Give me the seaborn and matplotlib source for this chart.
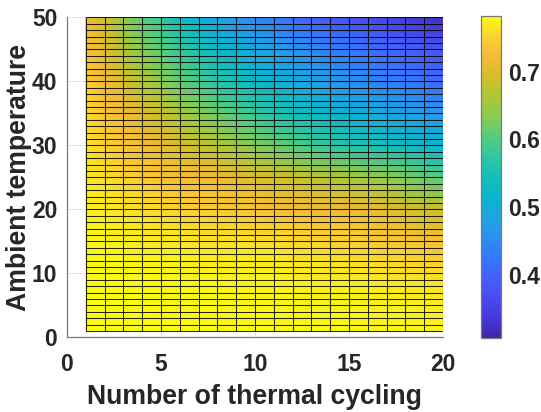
import numpy as np
import matplotlib
matplotlib.use("Agg")
import matplotlib.pyplot as plt
from matplotlib.colors import LinearSegmentedColormap
import seaborn as sns

# ---------------- data ----------------
cycles = np.arange(1, 21)            # number of thermal cycling (x grid)
temps = np.arange(1, 51)             # ambient temperature (y grid)
temp_read = [1, 5, 10, 15, 20, 25, 30, 35, 40, 45, 50]   # rows where values were read

z_t1 = [0.782, 0.782, 0.782, 0.782, 0.781, 0.781, 0.781, 0.781, 0.780, 0.780,
        0.780, 0.780, 0.779, 0.779, 0.779, 0.778, 0.778, 0.778, 0.777, 0.777]
z_t5 = [0.782, 0.782, 0.781, 0.781, 0.780, 0.780, 0.779, 0.779, 0.778, 0.778,
        0.777, 0.777, 0.776, 0.776, 0.775, 0.775, 0.774, 0.773, 0.772, 0.770]
z_t10 = [0.782, 0.781, 0.780, 0.779, 0.778, 0.777, 0.776, 0.775, 0.774, 0.773,
         0.773, 0.772, 0.770, 0.769, 0.768, 0.767, 0.765, 0.763, 0.761, 0.758]
z_t15 = [0.777, 0.775, 0.773, 0.770, 0.768, 0.768, 0.765, 0.763, 0.763, 0.761,
         0.758, 0.756, 0.754, 0.751, 0.749, 0.744, 0.739, 0.735, 0.730, 0.725]
z_t20 = [0.773, 0.770, 0.765, 0.761, 0.756, 0.751, 0.746, 0.742, 0.737, 0.732,
         0.727, 0.725, 0.723, 0.720, 0.718, 0.713, 0.706, 0.697, 0.692, 0.682]
z_t25 = [0.768, 0.761, 0.751, 0.742, 0.732, 0.725, 0.720, 0.716, 0.708, 0.701,
         0.694, 0.687, 0.678, 0.668, 0.659, 0.649, 0.640, 0.625, 0.611, 0.602]
z_t30 = [0.763, 0.749, 0.735, 0.720, 0.711, 0.697, 0.682, 0.668, 0.649, 0.630,
         0.616, 0.602, 0.587, 0.573, 0.559, 0.549, 0.540, 0.530, 0.521, 0.516]
z_t35 = [0.758, 0.735, 0.720, 0.701, 0.682, 0.659, 0.635, 0.616, 0.597, 0.578,
         0.559, 0.545, 0.530, 0.521, 0.511, 0.502, 0.492, 0.483, 0.473, 0.464]
z_t40 = [0.744, 0.720, 0.697, 0.668, 0.640, 0.611, 0.592, 0.564, 0.545, 0.526,
         0.511, 0.497, 0.483, 0.469, 0.459, 0.445, 0.435, 0.426, 0.416, 0.407]
z_t45 = [0.730, 0.706, 0.668, 0.630, 0.606, 0.578, 0.549, 0.530, 0.511, 0.492,
         0.478, 0.464, 0.450, 0.435, 0.426, 0.416, 0.407, 0.397, 0.388, 0.378]
z_t50 = [0.720, 0.692, 0.644, 0.606, 0.578, 0.535, 0.507, 0.483, 0.464, 0.445,
         0.426, 0.412, 0.397, 0.383, 0.374, 0.364, 0.355, 0.340, 0.331, 0.321]

z_rows = [z_t1, z_t5, z_t10, z_t15, z_t20, z_t25, z_t30, z_t35, z_t40, z_t45, z_t50]
cbar_ticks = [0.4, 0.5, 0.6, 0.7]
x_ticks = [0, 5, 10, 15, 20]
y_ticks = [0, 10, 20, 30, 40, 50]
clim = (0.307, 0.782)

# ---------------- colormap (MATLAB parula) ----------------
parula_anchors = [
    (0.2422, 0.1504, 0.6603), (0.2740, 0.2280, 0.8612), (0.2813, 0.2985, 0.9397),
    (0.2726, 0.3804, 0.9881), (0.2006, 0.4803, 0.9906), (0.1716, 0.5655, 0.9393),
    (0.1253, 0.6453, 0.8887), (0.0328, 0.7071, 0.8183), (0.0770, 0.7468, 0.7224),
    (0.1905, 0.7743, 0.6303), (0.3301, 0.8002, 0.4876), (0.5329, 0.7970, 0.3267),
    (0.6833, 0.7773, 0.2155), (0.8281, 0.7481, 0.1536), (0.9606, 0.7285, 0.2312),
    (0.9835, 0.8280, 0.1817), (0.9769, 0.9839, 0.0805)]
parula = LinearSegmentedColormap.from_list("parula", parula_anchors, N=256)

# ---------------- figure ----------------
sns.set_theme(style="white")
plt.rcParams["font.family"] = ["Liberation Sans", "DejaVu Sans"]
plt.rcParams["font.weight"] = "bold"

fig = plt.figure(figsize=(5.41, 4.12), dpi=100)
ax = fig.add_axes([0.1238, 0.1813, 0.695, 0.7767])
cax = fig.add_axes([0.889, 0.1796, 0.037, 0.7816])

Z = np.array(z_rows)
mesh = ax.pcolormesh(cycles, temp_read, Z, shading="gouraud", cmap=parula,
                     vmin=clim[0], vmax=clim[1], zorder=2, rasterized=True)

# faceted cell edges of the surface
ax.hlines(temps, cycles[0], cycles[-1], colors="black", linewidth=0.75, alpha=0.85, zorder=3)
ax.vlines(cycles, temps[0], temps[-1], colors="black", linewidth=0.75, alpha=0.85, zorder=3)

ax.set_xlim(0, 20)
ax.set_ylim(0, 50)
ax.set_xticks(x_ticks)
ax.set_yticks(y_ticks)
ax.grid(True, color="#e3e3e3", linewidth=0.8, zorder=0)
ax.set_axisbelow(True)

axis_col = "#7a7a7a"
text_col = "#262626"
for side in ["top", "right"]:
    ax.spines[side].set_visible(False)
for side in ["left", "bottom"]:
    ax.spines[side].set_color(axis_col)
    ax.spines[side].set_linewidth(0.9)
ax.tick_params(axis="both", direction="in", length=4, width=0.8, color=axis_col,
               labelsize=16.5, labelcolor=text_col)
ax.tick_params(axis="x", pad=11)
ax.tick_params(axis="y", length=0, pad=7)
for lab in ax.get_xticklabels() + ax.get_yticklabels():
    lab.set_fontweight("bold")

ax.set_xlabel("Number of thermal cycling", fontsize=19.2, fontweight="bold",
              color=text_col, labelpad=6)
ax.set_ylabel("Ambient temperature", fontsize=19.2, fontweight="bold",
              color=text_col, labelpad=0)

cb = fig.colorbar(mesh, cax=cax, ticks=cbar_ticks)
cb.outline.set_edgecolor(axis_col)
cb.outline.set_linewidth(0.9)
cax.tick_params(direction="in", length=3, width=0.8, color=text_col,
                labelsize=16.5, labelcolor=text_col, pad=5)
cax.set_yticklabels([f"{t:.1f}" for t in cbar_ticks], fontweight="bold")

fig.savefig("out.png", dpi=100)
